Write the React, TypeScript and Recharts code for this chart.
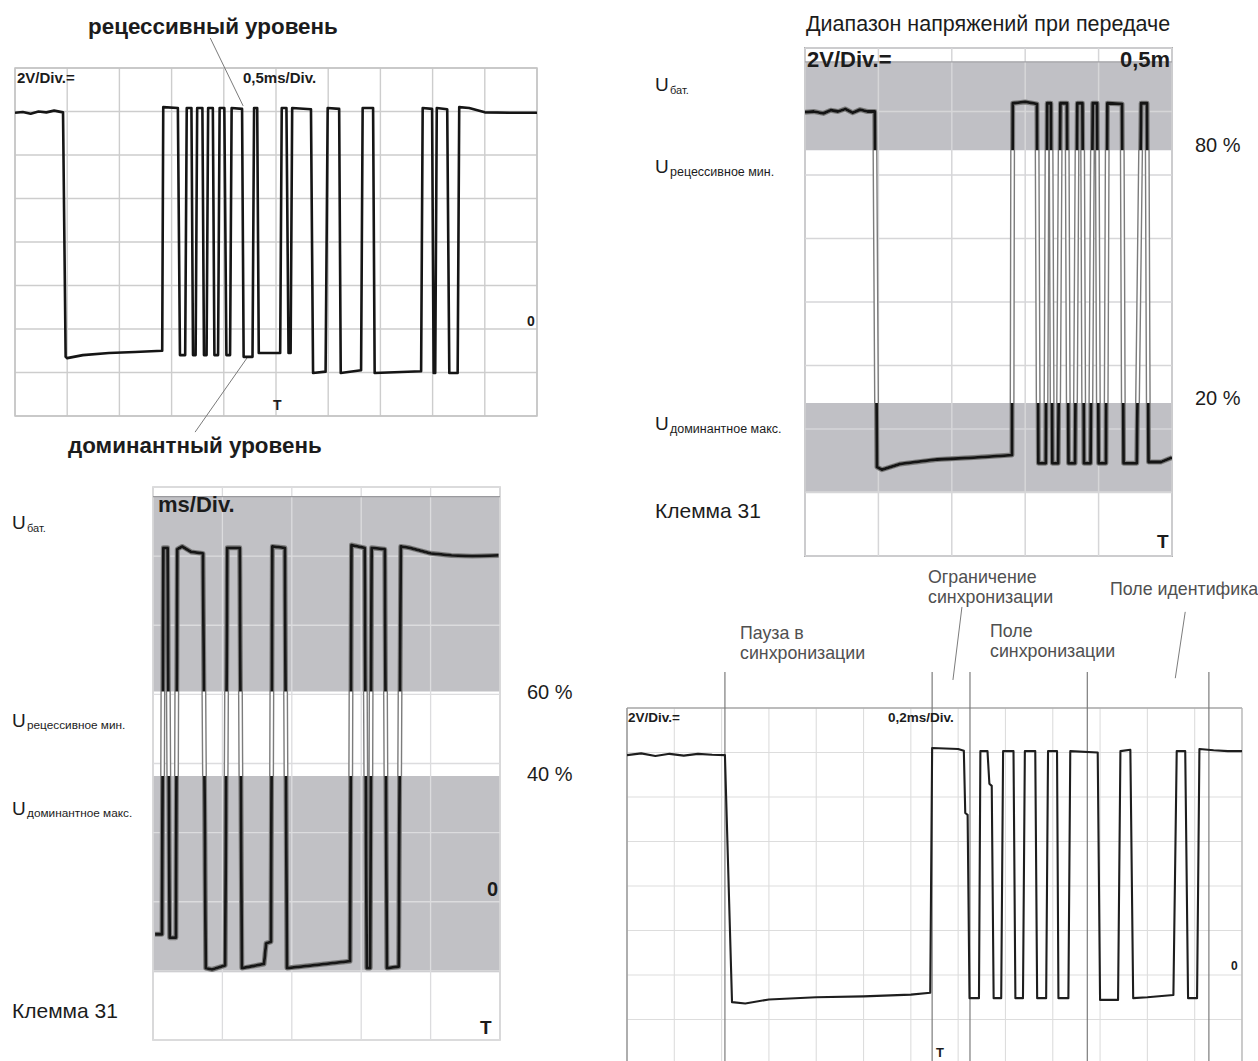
import React from 'react';
import { LineChart, Line, XAxis, YAxis, CartesianGrid, ReferenceArea, ReferenceLine } from 'recharts';

// ---------- Panel 1 (top-left): time in divisions (0.5 ms/div), voltage in divisions (2 V/div)
const p1Time = [0, 0.15, 0.3, 0.45, 0.6, 0.75, 0.92, 0.97, 1.0, 1.3, 1.8, 2.3, 2.82, 2.84, 3.12, 3.16, 3.26, 3.29, 3.38, 3.41, 3.46, 3.49, 3.59, 3.62, 3.67, 3.70, 3.79, 3.82, 3.89, 3.92, 4.01, 4.05, 4.12, 4.15, 4.35, 4.38, 4.55, 4.58, 4.64, 4.67, 5.08, 5.11, 5.20, 5.24, 5.28, 5.31, 5.67, 5.71, 5.95, 5.99, 6.21, 6.24, 6.63, 6.66, 6.86, 6.89, 7.78, 7.81, 7.99, 8.02, 8.05, 8.08, 8.28, 8.32, 8.48, 8.51, 8.7, 9.0, 9.5, 10.0];
const p1Volt = [6.97, 6.99, 6.95, 7.0, 6.98, 7.02, 6.98, 1.36, 1.33, 1.40, 1.45, 1.47, 1.50, 7.10, 7.08, 1.40, 1.40, 7.08, 7.08, 1.40, 1.40, 7.08, 7.08, 1.40, 1.40, 7.08, 7.08, 1.40, 1.40, 7.08, 7.08, 1.40, 1.40, 7.08, 7.06, 1.36, 1.36, 7.08, 7.08, 1.45, 1.45, 7.08, 7.08, 1.45, 1.45, 7.08, 7.05, 0.99, 1.02, 7.08, 7.06, 0.99, 1.05, 7.08, 7.08, 0.99, 1.03, 7.08, 7.06, 0.99, 0.99, 7.08, 7.05, 0.99, 0.99, 7.10, 7.08, 6.98, 6.97, 6.97];
const p1XTicks = [0, 1, 2, 3, 4, 5, 6, 7, 8, 9, 10];
const p1YTicks = [0, 1, 2, 3, 4, 5, 6, 7, 8];
const p1Leaders = [
  [[3.74, 8.69], [4.37, 7.13]],
  [[4.46, 1.36], [3.45, -0.37]],
];

// ---------- Panel 2 (top-right)
const p2Time = [0, 0.12, 0.25, 0.35, 0.45, 0.55, 0.65, 0.75, 0.85, 0.95, 0.98, 1.05, 1.3, 1.8, 2.3, 2.82, 2.83, 3.0, 3.16, 3.18, 3.28, 3.30, 3.35, 3.37, 3.45, 3.48, 3.57, 3.59, 3.68, 3.71, 3.78, 3.80, 3.89, 3.92, 3.98, 4.00, 4.10, 4.12, 4.32, 4.34, 4.52, 4.58, 4.66, 4.68, 4.85, 5.0];
const p2Volt = [6.99, 7.0, 6.97, 7.02, 7.0, 7.04, 6.98, 7.03, 7.0, 7.0, 1.40, 1.36, 1.45, 1.52, 1.55, 1.59, 7.13, 7.15, 7.12, 1.46, 1.46, 7.13, 7.13, 1.46, 1.46, 7.13, 7.13, 1.46, 1.46, 7.13, 7.13, 1.46, 1.46, 7.13, 7.13, 1.46, 1.46, 7.13, 7.12, 1.46, 1.46, 7.13, 7.13, 1.48, 1.48, 1.55];
const p2Bands = [[1.01, 2.41], [6.39, 7.78]];
const p2XTicks = [0, 1, 2, 3, 4, 5];
const p2YTicks = [0, 1, 2, 3, 4, 5, 6, 7, 8];

// ---------- Panel 3 (bottom-left)
const p3Time = [0.03, 0.13, 0.15, 0.21, 0.24, 0.33, 0.35, 0.42, 0.55, 0.72, 0.76, 0.85, 1.04, 1.07, 1.25, 1.28, 1.60, 1.63, 1.70, 1.72, 1.90, 1.93, 2.3, 2.84, 2.86, 3.05, 3.08, 3.13, 3.15, 3.34, 3.37, 3.54, 3.57, 3.7, 4.0, 4.3, 4.6, 4.98];
const p3Volt = [1.53, 1.53, 7.12, 7.12, 1.48, 1.48, 7.10, 7.14, 7.06, 7.04, 1.04, 1.02, 1.08, 7.12, 7.12, 1.04, 1.10, 1.40, 1.42, 7.14, 7.12, 1.04, 1.08, 1.14, 7.16, 7.12, 1.04, 1.04, 7.12, 7.10, 1.04, 1.06, 7.14, 7.12, 7.04, 7.01, 7.00, 7.01];
const p3Bands = [[0.98, 3.82], [5.04, 7.86]];
const p3XTicks = [0, 1, 2, 3, 4, 5];
const p3YTicks = [0, 1, 2, 3, 4, 5, 6, 7, 8];

// ---------- Panel 4 (bottom-right, 0.2 ms/div)
const p4Time = [0, 0.3, 0.6, 0.9, 1.2, 1.5, 1.8, 2.07, 2.22, 2.5, 3.0, 4.0, 5.0, 6.0, 6.41, 6.45, 7.0, 7.12, 7.15, 7.20, 7.24, 7.44, 7.47, 7.62, 7.66, 7.71, 7.75, 7.91, 7.95, 8.17, 8.21, 8.37, 8.41, 8.63, 8.67, 8.86, 8.90, 9.09, 9.12, 9.33, 9.37, 9.95, 10.0, 10.38, 10.43, 10.64, 10.70, 11.0, 11.55, 11.62, 11.80, 11.86, 12.05, 12.10, 12.4, 12.7, 13.0];
const p4Volt = [6.94, 6.98, 6.92, 6.97, 6.93, 6.97, 6.95, 6.94, 1.39, 1.36, 1.45, 1.50, 1.52, 1.56, 1.60, 7.10, 7.08, 7.04, 5.64, 5.60, 1.48, 1.48, 7.03, 7.03, 6.30, 6.25, 1.48, 1.48, 7.03, 7.03, 1.48, 1.48, 7.03, 7.03, 1.48, 1.48, 7.03, 7.03, 1.48, 1.48, 7.03, 7.00, 1.44, 1.44, 7.03, 7.06, 1.48, 1.50, 1.55, 7.03, 7.03, 1.48, 1.48, 7.08, 7.05, 7.03, 7.03];
const p4XTicks = [0, 1, 2, 3, 4, 5, 6, 7, 8, 9, 10, 11, 12, 13];
const p4YTicks = [0, 1, 2, 3, 4, 5, 6, 7, 8];
const p4Markers = [2.07, 6.45, 7.25, 9.73, 12.30];
const p4Leaders = [
  [[7.08, 10.27], [6.89, 8.63]],
  [[11.80, 10.16], [11.59, 8.67]],
];

type P = { t: number; v: number | null };
const toPts = (ts: number[], vs: number[]): P[] => ts.map((t, i) => ({ t, v: vs[i] }));

// keep only the parts of the trace that lie inside the grey bands (null = gap)
function insideBands(pts: P[], bands: number[][]): P[] {
  const out: P[] = [];
  const inBand = (v: number) => bands.some(([lo, hi]) => v >= lo && v <= hi);
  for (let i = 0; i < pts.length - 1; i++) {
    const a = pts[i], b = pts[i + 1];
    const av = a.v as number, bv = b.v as number;
    const ss = [0, 1];
    bands.forEach(([lo, hi]) => [lo, hi].forEach((c) => {
      if ((av - c) * (bv - c) < 0) ss.push((c - av) / (bv - av));
    }));
    ss.sort((x, y) => x - y);
    for (let k = 0; k < ss.length - 1; k++) {
      const s0 = ss[k], s1 = ss[k + 1];
      const mid = av + (bv - av) * (s0 + s1) / 2;
      const p0 = { t: a.t + (b.t - a.t) * s0, v: av + (bv - av) * s0 };
      const p1 = { t: a.t + (b.t - a.t) * s1, v: av + (bv - av) * s1 };
      if (inBand(mid)) { out.push(p0); out.push(p1); }
      else { out.push({ t: p0.t, v: null }); }
    }
  }
  return out;
}

const p1Data = toPts(p1Time, p1Volt);
const p2Data = toPts(p2Time, p2Volt);
const p3Data = toPts(p3Time, p3Volt);
const p4Data = toPts(p4Time, p4Volt);
const p2Dark = insideBands(p2Data, p2Bands);
const p3Dark = insideBands(p3Data, p3Bands);

const FONT = '"Liberation Sans", Arial, Helvetica, sans-serif';

function Txt(props: { x: number; cy: number; size: number; bold?: boolean; color?: string; children: React.ReactNode }) {
  const { x, cy, size, bold, color, children } = props;
  return (
    <div style={{ position: 'absolute', left: x, top: cy - size * 0.5, fontSize: size, fontWeight: bold ? 700 : 400, color: color || '#1c1c1c', lineHeight: 1, whiteSpace: 'nowrap' }}>
      {children}
    </div>
  );
}

function ULabel(props: { x: number; cy: number; sub: string; size: number; subSize: number; subDx: number }) {
  const { x, cy, sub, size, subSize, subDx } = props;
  return (
    <>
      <Txt x={x} cy={cy} size={size}>U</Txt>
      <Txt x={x + subDx} cy={cy + size * 0.32} size={subSize}>{sub}</Txt>
    </>
  );
}

const lineCommon = { type: 'linear' as const, dot: false, isAnimationActive: false, strokeLinejoin: 'round' as const, activeDot: false };

export default function App() {
  return (
    <div style={{ position: 'absolute', left: 0, top: 0, width: 1258, height: 1061, background: '#ffffff', overflow: 'hidden', fontFamily: FONT }}>
      {/* Panel 1 */}
      <div style={{ position: 'absolute', left: 0, top: 30 }}>
        <LineChart width={560} height={410} margin={{ top: 38, right: 23, bottom: 24, left: 15 }}>
          <XAxis type="number" dataKey="t" domain={[0, 10]} ticks={p1XTicks} hide allowDataOverflow />
          <YAxis type="number" domain={[0, 8]} ticks={p1YTicks} hide allowDataOverflow />
          <CartesianGrid stroke="#cdcdcd" strokeWidth={1.4} />
          <ReferenceArea x1={0} x2={10} y1={0} y2={8} fill="none" stroke="#c4c4c4" strokeWidth={1.5} ifOverflow="visible" />
          {p1Leaders.map((s, i) => (
            <ReferenceLine key={'l' + i} segment={[{ x: s[0][0], y: s[0][1] }, { x: s[1][0], y: s[1][1] }]} stroke="#7a7a7a" strokeWidth={1} ifOverflow="visible" />
          ))}
          <Line {...lineCommon} data={p1Data} dataKey="v" stroke="#151515" strokeWidth={2.6} />
        </LineChart>
      </div>

      {/* Panel 2 */}
      <div style={{ position: 'absolute', left: 803, top: 46 }}>
        <LineChart width={371} height={512} margin={{ top: 2, right: 2, bottom: 2, left: 2 }}>
          <XAxis type="number" dataKey="t" domain={[0, 5]} ticks={p2XTicks} hide allowDataOverflow />
          <YAxis type="number" domain={[0, 8]} ticks={p2YTicks} hide allowDataOverflow />
          {p2Bands.map((b, i) => (
            <ReferenceArea key={'b' + i} x1={0} x2={5} y1={b[0]} y2={b[1]} fill="#c0c0c5" fillOpacity={1} stroke="none" ifOverflow="visible" />
          ))}
          {p2XTicks.map((t) => <ReferenceLine key={'x' + t} x={t} stroke="#d6d6d8" strokeWidth={1.5} ifOverflow="visible" />)}
          {p2YTicks.map((v) => <ReferenceLine key={'y' + v} y={v} stroke="#d6d6d8" strokeWidth={1.5} ifOverflow="visible" />)}
          <ReferenceLine y={p2Bands[1][1]} stroke="#a0a0a4" strokeWidth={1.2} ifOverflow="visible" />
          <ReferenceArea x1={0} x2={5} y1={0} y2={8} fill="none" stroke="#b0b0b0" strokeWidth={2} ifOverflow="visible" />
          <Line {...lineCommon} data={p2Data} dataKey="v" stroke="#7c7c7c" strokeWidth={5} />
          <Line {...lineCommon} data={p2Data} dataKey="v" stroke="#ffffff" strokeWidth={2.2} />
          <Line {...lineCommon} data={p2Dark} dataKey="v" stroke="#141414" strokeWidth={2.8} connectNulls={false} />
        </LineChart>
      </div>

      {/* Panel 3 */}
      <div style={{ position: 'absolute', left: 151, top: 485 }}>
        <LineChart width={351} height={557} margin={{ top: 2, right: 2, bottom: 2, left: 2 }}>
          <XAxis type="number" dataKey="t" domain={[0, 5]} ticks={p3XTicks} hide allowDataOverflow />
          <YAxis type="number" domain={[0, 8]} ticks={p3YTicks} hide allowDataOverflow />
          {p3XTicks.map((t) => <ReferenceLine key={'x' + t} x={t} stroke="#dcdcde" strokeWidth={1.3} ifOverflow="visible" />)}
          {p3YTicks.map((v) => <ReferenceLine key={'y' + v} y={v} stroke="#dcdcde" strokeWidth={1.3} ifOverflow="visible" />)}
          {p3Bands.map((b, i) => (
            <ReferenceArea key={'b' + i} x1={0} x2={5} y1={b[0]} y2={b[1]} fill="#bcbcc1" fillOpacity={0.93} stroke="none" ifOverflow="visible" />
          ))}
          <ReferenceLine y={p3Bands[1][1]} stroke="#9a9a9e" strokeWidth={1.3} ifOverflow="visible" />
          <ReferenceArea x1={0} x2={5} y1={0} y2={8} fill="none" stroke="#c8c8c8" strokeWidth={1.5} ifOverflow="visible" />
          <Line {...lineCommon} data={p3Data} dataKey="v" stroke="#7c7c7c" strokeWidth={5} />
          <Line {...lineCommon} data={p3Data} dataKey="v" stroke="#ffffff" strokeWidth={2.2} />
          <Line {...lineCommon} data={p3Dark} dataKey="v" stroke="#161616" strokeWidth={2.8} connectNulls={false} />
        </LineChart>
      </div>

      {/* Panel 4 */}
      <div style={{ position: 'absolute', left: 615, top: 600 }}>
        <LineChart width={643} height={466} margin={{ top: 108, right: 16, bottom: 2, left: 12 }}>
          <XAxis type="number" dataKey="t" domain={[0, 13]} ticks={p4XTicks} hide allowDataOverflow />
          <YAxis type="number" domain={[0, 8]} ticks={p4YTicks} hide allowDataOverflow />
          <CartesianGrid stroke="#dddddd" strokeWidth={1.1} />
          <ReferenceLine y={8} stroke="#ababab" strokeWidth={1.5} ifOverflow="visible" />
          <ReferenceLine x={0} stroke="#9a9a9a" strokeWidth={1.5} ifOverflow="visible" />
          <ReferenceLine x={13} stroke="#b5b5b5" strokeWidth={1.2} ifOverflow="visible" />
          {p4Markers.map((t) => (
            <ReferenceLine key={'m' + t} segment={[{ x: t, y: 8.81 }, { x: t, y: 0 }]} stroke="#7c7c7c" strokeWidth={1.2} ifOverflow="visible" />
          ))}
          {p4Leaders.map((s, i) => (
            <ReferenceLine key={'l' + i} segment={[{ x: s[0][0], y: s[0][1] }, { x: s[1][0], y: s[1][1] }]} stroke="#7c7c7c" strokeWidth={1} ifOverflow="visible" />
          ))}
          <Line {...lineCommon} data={p4Data} dataKey="v" stroke="#1e1e1e" strokeWidth={2.1} />
        </LineChart>
      </div>

      {/* ---- texts panel 1 */}
      <Txt x={88} cy={27} size={22.4} bold>рецессивный уровень</Txt>
      <Txt x={68} cy={446} size={22.4} bold>доминантный уровень</Txt>
      <Txt x={17} cy={77} size={15} bold>2V/Div.=</Txt>
      <Txt x={243} cy={77} size={15} bold>0,5ms/Div.</Txt>
      <Txt x={527} cy={321} size={14} bold>0</Txt>
      <Txt x={273} cy={405} size={14} bold>T</Txt>

      {/* ---- texts panel 2 */}
      <Txt x={806} cy={25} size={21.5}>Диапазон напряжений при передаче</Txt>
      <Txt x={807} cy={60} size={22} bold>2V/Div.=</Txt>
      <Txt x={1120} cy={60} size={22} bold>0,5m</Txt>
      <Txt x={1157} cy={541} size={19} bold>T</Txt>
      <ULabel x={655} cy={84} sub="бат." size={19} subSize={11} subDx={15} />
      <ULabel x={655} cy={166} sub="рецессивное мин." size={19} subSize={12.5} subDx={15} />
      <ULabel x={655} cy={423} sub="доминантное макс." size={19} subSize={12.5} subDx={15} />
      <Txt x={655} cy={510} size={21}>Клемма 31</Txt>
      <Txt x={1195} cy={145} size={20}>80 %</Txt>
      <Txt x={1195} cy={398} size={20}>20 %</Txt>

      {/* ---- texts panel 3 */}
      <Txt x={158} cy={505} size={22} bold>ms/Div.</Txt>
      <Txt x={487} cy={889} size={20} bold>0</Txt>
      <Txt x={480} cy={1027} size={19} bold>T</Txt>
      <ULabel x={12} cy={522} sub="бат." size={19} subSize={11} subDx={15} />
      <ULabel x={12} cy={720} sub="рецессивное мин." size={19} subSize={11.8} subDx={15} />
      <ULabel x={12} cy={808} sub="доминантное макс." size={19} subSize={11.8} subDx={15} />
      <Txt x={12} cy={1010} size={21}>Клемма 31</Txt>
      <Txt x={527} cy={692} size={20}>60 %</Txt>
      <Txt x={527} cy={774} size={20}>40 %</Txt>

      {/* ---- texts panel 4 */}
      <Txt x={628} cy={718} size={13.5} bold>2V/Div.=</Txt>
      <Txt x={888} cy={718} size={13.5} bold>0,2ms/Div.</Txt>
      <Txt x={1231} cy={966} size={12} bold>0</Txt>
      <Txt x={936} cy={1052} size={13} bold>T</Txt>
      <Txt x={928} cy={578} size={17.8} color="#505050">Ограничение</Txt>
      <Txt x={928} cy={598} size={17.8} color="#505050">синхронизации</Txt>
      <Txt x={740} cy={634} size={17.8} color="#505050">Пауза в</Txt>
      <Txt x={740} cy={654} size={17.8} color="#505050">синхронизации</Txt>
      <Txt x={990} cy={632} size={17.8} color="#505050">Поле</Txt>
      <Txt x={990} cy={652} size={17.8} color="#505050">синхронизации</Txt>
      <Txt x={1110} cy={590} size={17.8} color="#505050">Поле идентифика</Txt>
    </div>
  );
}
